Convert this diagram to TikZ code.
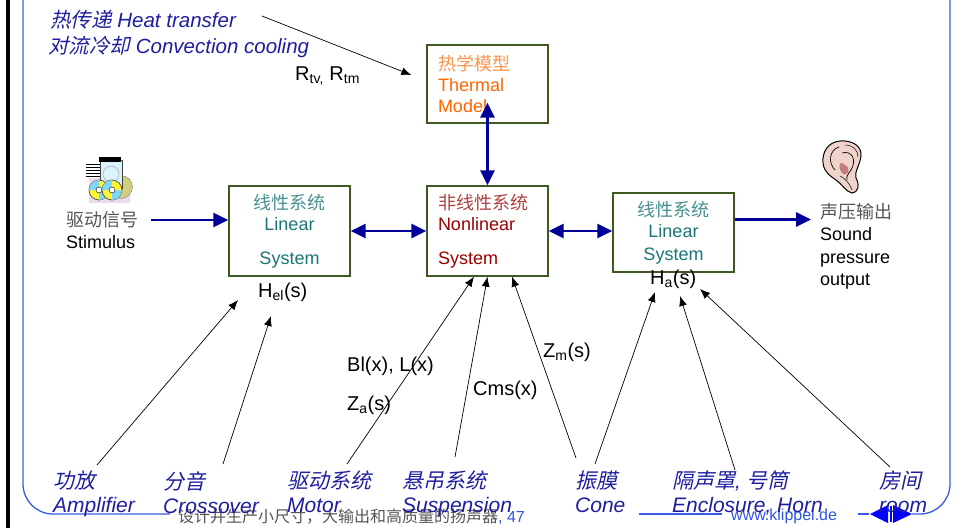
\documentclass[tikz,border=0pt]{standalone}
\usepackage{fontspec}
\setmainfont{Liberation Sans}
\newfontfamily\cn{Noto Sans CJK SC}
\newfontfamily\cnit[FakeSlant=0.22]{Noto Sans CJK SC}
\usetikzlibrary{arrows.meta, positioning, calc}
\definecolor{arrownavy}{HTML}{000099}
\definecolor{labelnavy}{HTML}{1E1EA0}
\definecolor{boxgreen}{HTML}{3E5A22}
\definecolor{linteal}{HTML}{1A7676}
\definecolor{nlred}{HTML}{990000}
\definecolor{thermorange}{HTML}{FF6600}
\definecolor{cngray}{HTML}{555555}
\definecolor{frameblue}{HTML}{3B5BE6}
\definecolor{footblue}{HTML}{2F55E0}
\definecolor{navblue}{HTML}{0000FF}
\definecolor{earskin}{HTML}{F0D4CC}
\definecolor{earshade}{HTML}{C47C80}

\begin{document}
\begin{tikzpicture}[
    x=1pt, y=-1pt,
    sysbox/.style={
        rectangle,
        draw=boxgreen,
        line width=1.3pt,
        fill=white,
        minimum width=121pt,
        text width=99pt,
        inner xsep=11pt,
        inner ysep=0pt,
        font=\fontsize{18}{21}\selectfont
    },
    flow/.style={line width=2.8pt, color=arrownavy, -{Triangle[length=15pt,width=14pt]}},
    flowboth/.style={line width=2.8pt, color=arrownavy, {Triangle[length=15pt,width=14pt]}-{Triangle[length=15pt,width=14pt]}},
    param/.style={-{Latex[length=10pt,width=8pt]}, line width=0.7pt, black},
    quantity/.style={inner sep=0pt, anchor=base west, font=\fontsize{20}{24}\selectfont},
    heat/.style={inner sep=0pt, anchor=base west, text=labelnavy, font=\fontsize{20.5}{24}\selectfont},
    inout/.style={inner sep=0pt, anchor=north west, align=left, font=\fontsize{18}{22.5}\selectfont},
    part/.style={inner sep=0pt, anchor=north west, align=left, text=labelnavy, font=\fontsize{21}{24}\selectfont},
    foot/.style={inner sep=0pt, anchor=base west, font=\fontsize{16}{18}\selectfont},
    frame/.style={line width=1.3pt, color=frameblue}
]
\useasboundingbox (0,0) rectangle (962,528);

% slide frame
\fill[black] (6,0) rectangle (9.5,528);
\draw[frame, rounded corners=30pt] (23,-2) |- (170,514);
\draw[frame] (639,514) -- (722,514);
\draw[frame] (858,514) -- (869,514);
\draw[frame, rounded corners=30pt] (912,514) -| (950,-2);

% footer
\node[foot] (slogan) at (178,522)
{{\cn\color{cngray}设计并生产小尺寸，大输出和高质量的扬声器}\textcolor{footblue}{, 47}};
\node[foot, text=footblue] (web) at (731,520) {www.klippel.de};
\fill[navblue] (870,514) -- (888,505) -- (888,523) -- cycle;
\fill[navblue] (889.5,506) rectangle (891.5,522);
\fill[navblue] (893,505) -- (912,514) -- (893,523) -- cycle;

% stimulus icon
\fill[violet!14] (89,178) rectangle (130,203);
\fill[olive!40, draw=gray] (121,187) circle (11.5);
\draw[gray!50!black, line width=0.8pt, fill=cyan!15] (100,160) rectangle (122,188);
\draw[gray!60, line width=0.6pt] (111,174) circle (8);
\fill[black] (99,157) rectangle (121,162);
\foreach \y in {164,167,170,173,176}
    \draw[black, line width=1pt] (86,\y) -- (100,\y);
\foreach \cx in {99,112} {
    \draw[gray!60!black, line width=0.7pt, fill=yellow!80] (\cx,190) circle (10);
    \fill[cyan!50] (\cx,190) -- ++(-10,0) arc[start angle=180, end angle=270, radius=10] -- cycle;
    \fill[cyan!50] (\cx,190) -- ++(10,0) arc[start angle=0, end angle=90, radius=10] -- cycle;
    \draw[black, fill=white] (\cx,190) circle (3);
}

% ear icon
\draw[black, line width=1pt, fill=earskin]
    (840,141) .. controls (828,142) and (822,152) .. (823,163)
    .. controls (824,172) and (830,176) .. (836,180)
    .. controls (842,184) and (846,192) .. (852,193)
    .. controls (858,193) and (860,185) .. (856,178)
    .. controls (854,172) and (860,165) .. (861,156)
    .. controls (862,146) and (852,140) .. (840,141) -- cycle;
\fill[earshade] (845,165) .. controls (838,158) and (838,170) .. (843,174)
    .. controls (849,176) and (851,168) .. (845,165) -- cycle;
\draw[black, line width=0.7pt] (839,147) .. controls (829,150) and (828,163) .. (835,170);
\draw[black, line width=0.7pt] (842,153) .. controls (852,150) and (857,160) .. (851,170)
    .. controls (848,174) and (846,177) .. (847,180);
\draw[black, line width=0.5pt] (840,176) .. controls (845,178) and (850,184) .. (852,190);
\draw[black, line width=0.5pt] (845,145) .. controls (853,145) and (858,150) .. (858,157);

% heat path
\node[heat] (heat) at (50,27) {{\cnit 热传递} \textit{Heat transfer}};
\node[heat] (conv) at (48,53) {{\cnit 对流冷却} \textit{Convection cooling}};

% system blocks
\node[sysbox, minimum height=78pt, align=left, text=thermorange] (thermal) at (487.5,84)
{{\cn\color{thermorange!70}热学模型}\\Thermal\\Model};
\node[sysbox, minimum height=90pt, align=center, text=linteal] (linL) at (289.5,231)
{{\cn\color{linteal!80}线性系统}\\Linear\\[13pt]System};
\node[sysbox, minimum height=90pt, align=left, text=nlred] (nonlin) at (487.5,231)
{{\cn\color{nlred!75}非线性系统}\\Nonlinear\\[13pt]System};
\node[sysbox, minimum height=79pt, align=center, text=linteal] (linR) at (673.5,232.5)
{{\cn\color{linteal!80}线性系统}\\Linear\\[2pt]System};

% input and output
\node[inout] (stim) at (66,211) {{\cn\color{cngray}驱动信号}\\Stimulus};
\node[inout] (out) at (820,203) {{\cn\color{cngray}声压输出}\\Sound\\pressure\\output};

% transfer functions and parameters
\node[quantity] (rt) at (295,80) {R\textsubscript{tv,} R\textsubscript{tm}};
\node[quantity] (hel) at (258,297) {H\textsubscript{el}(s)};
\node[quantity] (ha) at (650,284) {H\textsubscript{a}(s)};
\node[quantity] (blx) at (347,371) {Bl(x), L(x)};
\node[quantity] (za) at (347,410) {Z\textsubscript{a}(s)};
\node[quantity] (cms) at (473,395) {Cms(x)};
\node[quantity] (zm) at (543,357) {Z\textsubscript{m}(s)};

% signal flow
\draw[flow] ($(stim.east |- linL.west)+(13,-11)$) -- ($(linL.west)+(0,-11)$);
\draw[flowboth] (linL.east) -- (nonlin.west);
\draw[flowboth] (nonlin.east) -- (nonlin.east -| linR.west);
\draw[flow] ($(linR.east)+(0,-13)$) -- ($(linR.east -| out.west)+(-9,-13)$);
\draw[flowboth, shorten <=-21pt] (thermal.south) -- (nonlin.north);

% loudspeaker parts
\node[part] (amp) at (53,471) {{\cnit 功放}\\\textit{Amplifier}};
\node[part] (cross) at (163,471) {{\cnit 分音}\\\textit{Crossover}};
\node[part] (motor) at (287,471) {{\cnit 驱动系统}\\\textit{Motor}};
\node[part] (susp) at (402,471) {{\cnit 悬吊系统}\\\textit{Suspension}};
\node[part] (cone) at (575,471) {{\cnit 振膜}\\\textit{Cone}};
\node[part] (encl) at (672,471) {{\cnit 隔声罩}\textit{, }{\cnit 号筒}\\\textit{Enclosure, Horn}};
\node[part] (room) at (879,471) {{\cnit 房间}\\\textit{room}};

% parameter links
\draw[param] ([xshift=212pt,yshift=11pt]heat.base west) -- ([xshift=-15pt,yshift=9pt]thermal.west);
\draw[param] ([xshift=44pt,yshift=6pt]amp.north west) -- ([xshift=-20pt,yshift=-3pt]hel.base west);
\draw[param] ([xshift=60pt,yshift=7pt]cross.north west) -- ([xshift=13pt,yshift=-19pt]hel.base west);
\draw[param] ([xshift=60pt,yshift=7pt]motor.north west) -- ([xshift=-13.5pt]nonlin.south);
\draw[param] ([xshift=53pt,yshift=14pt]susp.north west) -- (nonlin.south);
\draw[param] ([xshift=1pt,yshift=13pt]cone.north west) -- ([xshift=24.5pt]nonlin.south);
\draw[param] ([xshift=20pt,yshift=7pt]cone.north west) -- ([xshift=5pt,yshift=-8pt]ha.base west);
\draw[param] ([xshift=63pt,yshift=1pt]encl.north west) -- ([xshift=30pt,yshift=-12pt]ha.base west);
\draw[param] ([xshift=11pt,yshift=4pt]room.north west) -- ([xshift=50pt,yshift=-5pt]ha.base west);

\end{tikzpicture}
\end{document}
